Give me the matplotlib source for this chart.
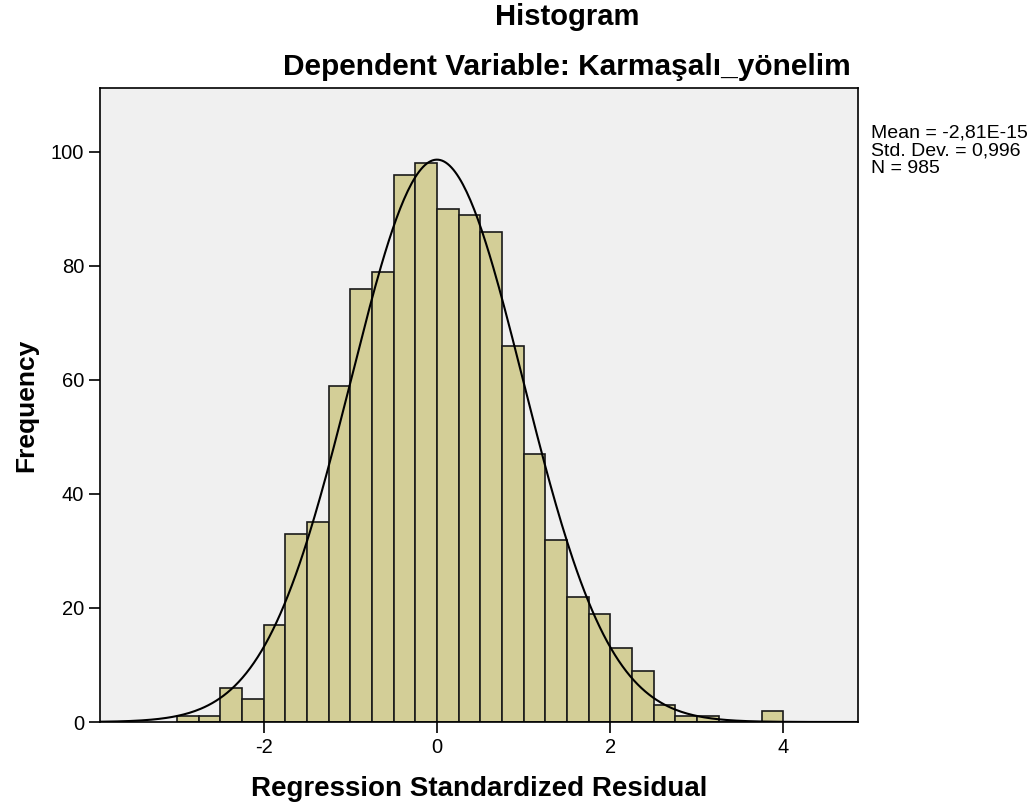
import numpy as np
import matplotlib
matplotlib.use('Agg')
import matplotlib.pyplot as plt

plt.rcParams['font.family'] = ['Liberation Sans', 'DejaVu Sans']
plt.rcParams['axes.unicode_minus'] = False

# Histogram bins (width 0.25) and counts
bin_edges = [-3.0, -2.75, -2.5, -2.25, -2.0, -1.75, -1.5, -1.25, -1.0, -0.75,
             -0.5, -0.25, 0.0, 0.25, 0.5, 0.75, 1.0, 1.25, 1.5, 1.75,
             2.0, 2.25, 2.5, 2.75, 3.0, 3.25, 3.5, 3.75, 4.0]
counts = [1, 1, 6, 4, 17, 33, 35, 59, 76, 79,
          96, 98, 90, 89, 86, 66, 47, 32, 22, 19,
          13, 9, 3, 1, 1, 0, 0, 2]

mean_val = -2.81e-15
std_val = 0.996
n_val = 985
stats_lines = ['Mean = -2,81E-15', 'Std. Dev. = 0,996', 'N = 985']

x_ticks = [-2, 0, 2, 4]
y_ticks = [0, 20, 40, 60, 80, 100]

W, H = 1036, 809
fig = plt.figure(figsize=(W / 100, H / 100), dpi=100)
ax = fig.add_axes([100 / W, (H - 722) / H, (858 - 100) / W, (722 - 88) / H])
ax.set_facecolor('#F0F0F0')

edges = np.array(bin_edges)
widths = np.diff(edges)
ax.bar(edges[:-1], counts, width=widths, align='edge',
       color='#D3CE97', edgecolor='#1a1a1a', linewidth=1.2, zorder=2)

# fitted normal curve scaled to counts
bw = widths[0]
xs = np.linspace(-3.89, 4.86, 400)
ys = n_val * bw / (std_val * np.sqrt(2 * np.pi)) * np.exp(-0.5 * ((xs - mean_val) / std_val) ** 2)
ax.plot(xs, ys, color='black', linewidth=1.5, zorder=3)

ax.set_xlim(-3.89, 4.86)
ax.set_ylim(0, 111.2)
ax.set_xticks(x_ticks)
ax.set_yticks(y_ticks)
ax.tick_params(axis='both', length=8, width=1.2, labelsize=14.5, colors='black')
for s in ax.spines.values():
    s.set_linewidth(1.2)
    s.set_color('black')

ax.set_xlabel('Regression Standardized Residual', fontsize=20, fontweight='bold', labelpad=14)
ax.set_ylabel('Frequency', fontsize=19, fontweight='bold', labelpad=9)

fig.text(567 / W, 1 - 17 / H, 'Histogram', ha='center', va='center',
         fontsize=21, fontweight='bold')
fig.text(567 / W, 1 - 67 / H, 'Dependent Variable: Karmaşalı_yönelim', ha='center', va='center',
         fontsize=21.5, fontweight='bold')

fig.text(871 / W, 1 - 124 / H, '\n'.join(stats_lines), ha='left', va='top',
         fontsize=14, linespacing=1.08)

fig.savefig('out.png', dpi=100)
